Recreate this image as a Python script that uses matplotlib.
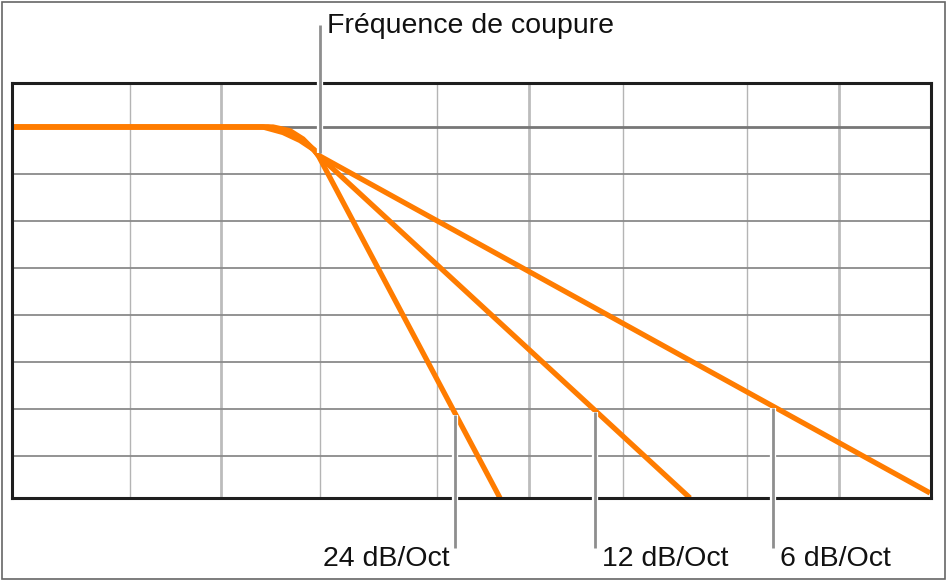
import matplotlib.pyplot as plt
from matplotlib.patches import Rectangle

plt.rcParams['font.family'] = ['Liberation Sans', 'DejaVu Sans']

# x: position across the plot box, y: gain in grid steps (0 = pass band)
vgrid_thin = [118, 308, 425, 611, 735]
vgrid_major = [209, 517, 827]
hgrid = [-1, -2, -3, -4, -5, -6, -7]

cutoff = (306, -0.596)
slopes = ['24 dB/Oct', '12 dB/Oct', '6 dB/Oct']
knee_x = {
    '24 dB/Oct': [0, 261, 278, 291, 301, 306],
    '12 dB/Oct': [0, 256, 275, 290, 302, 306],
    '6 dB/Oct': [0, 251, 271, 288, 303, 306],
}
knee_y = {
    '24 dB/Oct': [0, 0, -0.08, -0.255, -0.47, -0.596],
    '12 dB/Oct': [0, 0, -0.1, -0.27, -0.485, -0.596],
    '6 dB/Oct': [0, 0, -0.117, -0.287, -0.5, -0.596],
}
end_x = {'24 dB/Oct': 488, '12 dB/Oct': 678, '6 dB/Oct': 918}
end_y = {'24 dB/Oct': -7.894, '12 dB/Oct': -7.894, '6 dB/Oct': -7.787}
label_x = {'24 dB/Oct': 443, '12 dB/Oct': 583, '6 dB/Oct': 761}

orange = '#ff7c00'
lead = '#8e8e8e'

fig = plt.figure(figsize=(9.47, 5.80), dpi=100)
fig.patches.append(Rectangle((0.002, 0.002), 0.996, 0.995, transform=fig.transFigure,
                             fill=False, edgecolor='#666666', linewidth=1.2))
ax = fig.add_axes([12 / 947, 82 / 580, 919 / 947, 415 / 580])
ax.set_xlim(0, 919)
ax.set_ylim(-7.894, 0.936)
ax.set_xticks([])
ax.set_yticks([])
for s in ax.spines.values():
    s.set_linewidth(2.2)
    s.set_color('#1e1e1e')
    s.set_zorder(4)

for x in vgrid_thin:
    ax.axvline(x, color='#b4b4b4', linewidth=1.0, zorder=1)
for x in vgrid_major:
    ax.axvline(x, color='#bcbcbc', linewidth=2.0, zorder=1)
for y in hgrid:
    ax.axhline(y, color='#8a8a8a', linewidth=1.3, zorder=1)
ax.axhline(0, color='#777777', linewidth=2.0, zorder=1)

for name in slopes:
    xs = knee_x[name] + [end_x[name]]
    ys = knee_y[name] + [end_y[name]]
    ax.plot(xs, ys, color=orange, linewidth=3.8, solid_capstyle='butt',
            solid_joinstyle='round', zorder=3)


def leader(x, y0, y1):
    ax.plot([x, x], [y0, y1], color='white', linewidth=4.5, clip_on=False, zorder=5,
            solid_capstyle='butt')
    ax.plot([x, x], [y0, y1], color=lead, linewidth=2.0, clip_on=False, zorder=6,
            solid_capstyle='butt')


# cutoff label
leader(cutoff[0] + 2, cutoff[1] + 0.04, (127 - 25) / 47)
ax.text(cutoff[0] + 9, (127 - 33) / 47, 'Fréquence de coupure', fontsize=20.5,
        ha='left', va='baseline', color='#111111', clip_on=False)

bottom_y = (127 - 548) / 47
text_y = (127 - 566) / 47
for name in slopes:
    lx = label_x[name]
    x0, y0 = cutoff
    yy = y0 + (end_y[name] - y0) * (lx - x0) / (end_x[name] - x0)
    leader(lx, yy - 0.03, bottom_y)
    if name == '24 dB/Oct':
        ax.text(lx - 5, text_y, name, fontsize=20.5, ha='right', va='baseline',
                color='#111111', clip_on=False)
    else:
        ax.text(lx + 7, text_y, name, fontsize=20.5, ha='left', va='baseline',
                color='#111111', clip_on=False)

fig.savefig('out.png', dpi=100)
